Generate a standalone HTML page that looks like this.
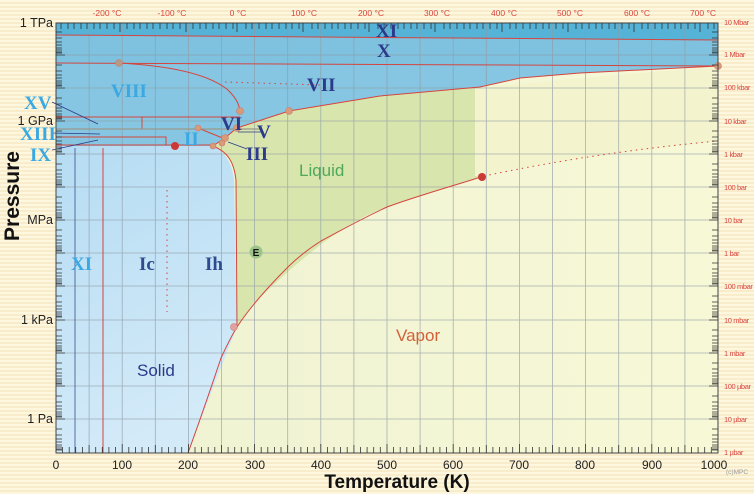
<!DOCTYPE html>
<html><head><meta charset="utf-8"><style>
html,body{margin:0;padding:0}
body{width:754px;height:494px;overflow:hidden;background:repeating-linear-gradient(180deg,#fdf7df 0,#fdf7df 2px,#f9eccb 2px,#f9eccb 4px);font-family:"Liberation Sans",sans-serif}
svg{position:absolute;left:0;top:0}
.s{font-family:"Liberation Serif",serif;font-weight:bold}
</style></head><body>
<svg width="754" height="494" viewBox="0 0 754 494" xmlns="http://www.w3.org/2000/svg">
<defs>
<linearGradient id="sol" x1="0" y1="0" x2="0.3" y2="1"><stop offset="0" stop-color="#b5dcf3"/><stop offset="1" stop-color="#d3eaf8"/></linearGradient>
<linearGradient id="vap" x1="0" y1="0" x2="1" y2="0"><stop offset="0" stop-color="#eef2d2"/><stop offset="1" stop-color="#f7f8d6"/></linearGradient>
</defs>
<!-- plot background -->
<rect x="56" y="23" width="662" height="430" fill="url(#vap)"/>
<!-- solid light blue -->
<path d="M56,145 L213,146 C222,150 232,160 234,180 L237,327 C228,350 212,390 188,453 L56,453 Z" fill="url(#sol)"/>
<!-- liquid -->
<path d="M237,327 L236,180 C234,162 228,152 213,146 L226,137 L237,128 L289,111 L380,96 L475,88 L475,176 L484,176 C460,183 420,195 387,207 C340,224 300,260 255,302 Z" fill="#d8e6ae"/>
<path d="M475,88 L718,66 L718,141 C640,150 560,160 475,176 Z" fill="#f3f4cd"/>
<!-- upper blue -->
<path d="M56,23 L718,23 L718,66 L580,73 L520,78 L480,87 L380,96 L289,111 L237,128 L226,137 L213,146 L56,146 Z" fill="#86c6e2"/>
<path d="M56,23 L718,23 L718,40 L56,35 Z" fill="#55b3d8"/>
<path d="M56,35 L718,40 L718,66 L56,63 Z" fill="#7dc0df" opacity="0.8"/>
<!-- grid -->
<g stroke="#8f9aa4" stroke-width="0.8" opacity="0.75">
<path d="M89.1,23V453M122.2,23V453M155.3,23V453M188.4,23V453M221.5,23V453M254.6,23V453M287.7,23V453M320.8,23V453M353.9,23V453M387,23V453M420.1,23V453M453.2,23V453M486.3,23V453M519.4,23V453M552.5,23V453M585.6,23V453M618.7,23V453M651.8,23V453M684.9,23V453"/>
<path d="M56,55H718M56,88H718M56,121H718M56,154H718M56,187H718M56,220H718M56,253H718M56,286H718M56,320H718M56,353H718M56,386H718M56,419H718"/>
</g>
<!-- phase lines -->
<g fill="none" stroke="#d4453f" stroke-width="1">
<path d="M56,35 L718,40"/>
<path d="M56,63 L718,66"/>
<path d="M188,453 C200,420 212,385 221,358 C228,343 232,335 237,327 C250,307 270,285 288,267 C300,255 310,248 321,241 C340,231 355,222 387,207 C420,195 453,186 484,176"/>
<path d="M237,327 L236,180 C234,162 228,152 213,146"/>
<path d="M213,146 L226,137 L237,128 L289,111 L380,96 L480,87 L520,78 L580,73 L718,66"/>
<path d="M119,63 C175,66 210,75 228,90 C236,98 239,104 240,111"/>
<path d="M56,117 H240 M142,117 V129 M56,137 H166 V145 M56,145 H213"/>
<path d="M103,148 V453"/>
<path d="M198,128 L225,139"/>
<path d="M484,176 C560,160 640,148 718,141" stroke-dasharray="1.5,4"/>
<path d="M167,190 V312" stroke-dasharray="1.5,4"/>
<path d="M225,82 L320,85" stroke-dasharray="1.5,4"/>
</g>
<path d="M56,129 H260" stroke="#9a9a8a" stroke-width="1.2"/>
<path d="M75,148 V453" stroke="#3b4f8a" stroke-width="0.8"/>
<g stroke="#2b3a8a" stroke-width="0.8" fill="none">
<path d="M52,102 L98,124 M52,133 L100,134 M52,150 L98,140 M238,132 L262,132 M228,142 L247,149"/>
</g>
<!-- markers -->
<g fill="#d99a7a" stroke="#c97c6c" stroke-width="0.6">
<circle cx="119" cy="63" r="3.5" fill="#b59a86"/><circle cx="240" cy="111" r="3.5"/><circle cx="289" cy="111" r="3.5"/>
<circle cx="237" cy="128" r="3.5"/><circle cx="198" cy="128" r="3"/><circle cx="225" cy="138" r="3.5"/>
<circle cx="222" cy="143" r="3"/><circle cx="213" cy="146" r="3"/><circle cx="718" cy="66" r="3.5"/>
<circle cx="234" cy="327" r="3.5" fill="#e3a0a0"/>
</g>
<circle cx="175" cy="146" r="4" fill="#cc3a35"/>
<circle cx="482" cy="177" r="4" fill="#cc3a35"/>
<circle cx="256" cy="252" r="6.5" fill="#9cc48a"/>
<text x="256" y="256" font-size="10" font-weight="bold" text-anchor="middle" fill="#111">E</text>
<!-- axes frame ticks -->
<rect x="56" y="23" width="662" height="430" fill="none" stroke="#666" stroke-width="1"/>
<g stroke="#444" stroke-width="1">
<path d="M56,23H718M56,453H718M56,23V453M718,23V453"/>
</g>
<g id="bt" stroke="#333" stroke-width="0.8">
<path d="M62.6,453v-6M69.2,453v-6M75.7,453v-6M82.5,453v-6M89.1,453v-8M95.7,453v-6M102.3,453v-6M108.9,453v-6M115.5,453v-6M122.2,453v-9M128.8,453v-6M135.4,453v-6M142,453v-6M148.6,453v-6M155.3,453v-8M161.9,453v-6M168.5,453v-6M175.1,453v-6M181.7,453v-6M188.4,453v-9M195,453v-6M201.6,453v-6M208.2,453v-6M214.8,453v-6M221.5,453v-8M228.1,453v-6M234.7,453v-6M241.3,453v-6M247.9,453v-6M254.6,453v-9M261.2,453v-6M267.8,453v-6M274.4,453v-6M281,453v-6M287.7,453v-8M294.3,453v-6M300.9,453v-6M307.5,453v-6M314.1,453v-6M320.8,453v-9M327.4,453v-6M334,453v-6M340.6,453v-6M347.2,453v-6M353.9,453v-8M360.5,453v-6M367.1,453v-6M373.7,453v-6M380.3,453v-6M387,453v-9M393.6,453v-6M400.2,453v-6M406.8,453v-6M413.4,453v-6M420.1,453v-8M426.7,453v-6M433.3,453v-6M439.9,453v-6M446.5,453v-6M453.2,453v-9M459.8,453v-6M466.4,453v-6M473,453v-6M479.6,453v-6M486.3,453v-8M492.9,453v-6M499.5,453v-6M506.1,453v-6M512.7,453v-6M519.4,453v-9M526,453v-6M532.6,453v-6M539.2,453v-6M545.8,453v-6M552.5,453v-8M559.1,453v-6M565.7,453v-6M572.3,453v-6M578.9,453v-6M585.6,453v-9M592.2,453v-6M598.8,453v-6M605.4,453v-6M612,453v-6M618.7,453v-8M625.3,453v-6M631.9,453v-6M638.5,453v-6M645.1,453v-6M651.8,453v-9M658.4,453v-6M665,453v-6M671.6,453v-6M678.2,453v-6M684.9,453v-8M691.5,453v-6M698.1,453v-6M704.7,453v-6M711.3,453v-6"/>
</g>
<g stroke="#333" stroke-width="0.8">
<path d="M61,23v6M68,23v6M74,23v6M81,23v6M87,23v6M94,23v6M100,23v6M107,23v6M114,23v6M120,23v9M127,23v6M134,23v6M140,23v6M147,23v6M153,23v6M160,23v6M167,23v6M173,23v6M180,23v6M186,23v9M193,23v6M200,23v6M206,23v6M213,23v6M219,23v6M226,23v6M233,23v6M237,23v9M246,23v6M252,23v6M259,23v6M266,23v6M272,23v6M279,23v6M286,23v6M292,23v6M299,23v6M303,23v9M312,23v6M318,23v6M325,23v6M332,23v6M338,23v6M345,23v6M351,23v6M358,23v6M365,23v6M369,23v9M378,23v6M384,23v6M391,23v6M398,23v6M404,23v6M411,23v6M417,23v6M424,23v6M431,23v6M435,23v9M444,23v6M450,23v6M457,23v6M464,23v6M470,23v6M477,23v6M483,23v6M490,23v6M497,23v6M502,23v9M510,23v6M516,23v6M523,23v6M530,23v6M536,23v6M543,23v6M549,23v6M556,23v6M563,23v6M568,23v9M576,23v6M582,23v6M589,23v6M596,23v6M602,23v6M609,23v6M615,23v6M622,23v6M629,23v6M634,23v9M642,23v6M648,23v6M655,23v6M662,23v6M668,23v6M675,23v6M681,23v6M688,23v6M695,23v6M700,23v9M708,23v6M714,23v6"/>
</g>
<!-- left/right decade minor ticks -->
<g stroke="#333" stroke-width="0.8" id="lt">
<path d="M56,32h6M56,38h6M56,42h6M56,45h6M56,48h6M56,50h6M56,52h6M56,53h6M56,55h9M56,65h6M56,71h6M56,75h6M56,78h6M56,81h6M56,83h6M56,85h6M56,86h6M56,88h9M56,98h6M56,104h6M56,108h6M56,111h6M56,114h6M56,116h6M56,118h6M56,119h6M56,121h9M56,131h6M56,137h6M56,141h6M56,144h6M56,147h6M56,149h6M56,151h6M56,152h6M56,154h9M56,164h6M56,170h6M56,174h6M56,177h6M56,180h6M56,182h6M56,184h6M56,185h6M56,187h9M56,197h6M56,203h6M56,207h6M56,210h6M56,213h6M56,215h6M56,217h6M56,218h6M56,220h9M56,230h6M56,236h6M56,240h6M56,243h6M56,246h6M56,248h6M56,250h6M56,251h6M56,253h9M56,263h6M56,269h6M56,273h6M56,276h6M56,279h6M56,281h6M56,283h6M56,284h6M56,286h9M56,296h6M56,302h6M56,306h6M56,309h6M56,312h6M56,314h6M56,316h6M56,317h6M56,320h9M56,330h6M56,336h6M56,340h6M56,343h6M56,346h6M56,348h6M56,350h6M56,351h6M56,353h9M56,363h6M56,369h6M56,373h6M56,376h6M56,379h6M56,381h6M56,383h6M56,384h6M56,386h9M56,396h6M56,402h6M56,406h6M56,409h6M56,412h6M56,414h6M56,416h6M56,417h6M56,419h9M56,429h6M56,435h6M56,439h6M56,442h6M56,445h6M56,447h6M56,449h6M56,450h6"/>
</g>
<use href="#lt" transform="translate(774,0) scale(-1,1)"/>
<!-- left labels -->
<g font-size="12.5" fill="#222" text-anchor="end">
<text x="53" y="27">1 TPa</text><text x="53" y="125">1 GPa</text><text x="53" y="224">MPa</text><text x="53" y="324">1 kPa</text><text x="53" y="423">1 Pa</text>
</g>
<text transform="translate(19,196) rotate(-90)" font-size="21" font-weight="bold" fill="#111" text-anchor="middle">Pressure</text>
<!-- bottom labels -->
<g font-size="12" fill="#222" text-anchor="middle">
<text x="56" y="469">0</text><text x="122" y="469">100</text><text x="188" y="469">200</text><text x="255" y="469">300</text><text x="321" y="469">400</text><text x="387" y="469">500</text><text x="453" y="469">600</text><text x="519" y="469">700</text><text x="585" y="469">800</text><text x="652" y="469">900</text><text x="714" y="469">1000</text>
</g>
<text x="397" y="488" font-size="19" font-weight="bold" fill="#111" text-anchor="middle">Temperature (K)</text>
<text x="737" y="474" font-size="6.5" fill="#999" text-anchor="middle">(c)MPC</text>
<!-- top labels -->
<g font-size="8.5" fill="#d9463f" text-anchor="middle">
<text x="107" y="16">-200 °C</text><text x="172" y="16">-100 °C</text><text x="238" y="16">0 °C</text><text x="304" y="16">100 °C</text><text x="371" y="16">200 °C</text><text x="437" y="16">300 °C</text><text x="504" y="16">400 °C</text><text x="570" y="16">500 °C</text><text x="637" y="16">600 °C</text><text x="703" y="16">700 °C</text>
</g>
<g font-size="7.5" fill="#d9463f" letter-spacing="-0.4">
<text x="724" y="25">10 Mbar</text><text x="724" y="57">1 Mbar</text><text x="724" y="90">100 kbar</text><text x="724" y="124">10 kbar</text><text x="724" y="157">1 kbar</text><text x="724" y="190">100 bar</text><text x="724" y="223">10 bar</text><text x="724" y="256">1 bar</text><text x="724" y="289">100 mbar</text><text x="724" y="323">10 mbar</text><text x="724" y="356">1 mbar</text><text x="724" y="389">100 µbar</text><text x="724" y="422">10 µbar</text><text x="724" y="455">1 µbar</text>
</g>
<!-- phase labels -->
<g class="s" font-size="19" fill="#2b3a8a">
<text x="376" y="37">XI</text><text x="377" y="57">X</text><text x="307" y="91">VII</text><text x="221" y="130">VI</text><text x="257" y="138">V</text><text x="246" y="160">III</text>
<text x="139" y="270" fill="#2f4a8f">Ic</text><text x="205" y="270" fill="#2f4a8f">Ih</text>
</g>
<g class="s" font-size="19" fill="#3aa8e2">
<text x="111" y="97">VIII</text><text x="24" y="109">XV</text><text x="20" y="140">XIII</text><text x="30" y="161">IX</text><text x="184" y="145">II</text><text x="71" y="270">XI</text>
</g>
<text x="299" y="176" font-size="17" fill="#4da85a">Liquid</text>
<text x="137" y="376" font-size="17" fill="#2b3a8a">Solid</text>
<text x="396" y="341" font-size="17" fill="#d2613a">Vapor</text>
</svg>
</body></html>
